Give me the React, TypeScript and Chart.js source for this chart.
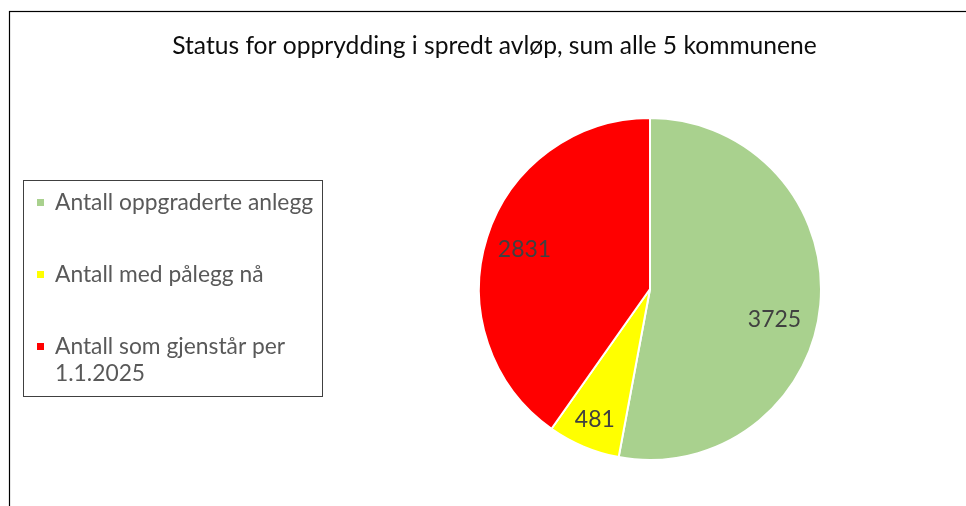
import React, { useEffect, useRef } from "react";
import { Chart, registerables } from "chart.js";

Chart.register(...registerables);

const titleText = "Status for opprydding i spredt avløp, sum alle 5 kommunene";
const categories = [
  "Antall oppgraderte anlegg",
  "Antall med pålegg nå",
  "Antall som gjenstår per 1.1.2025",
];
const values = [3725, 481, 2831];
const sliceColors = ["#A9D18E", "#FFFF00", "#FF0000"];

// label placement (fraction along the arc angle, fraction of radius)
const labelAngleFrac = [0.545, 0.5, 0.5];
const labelRadiusFrac = [0.75, 0.83, 0.77];

const FONT = "Lato, 'Open Sans', sans-serif";

const framePlugin = {
  id: "frame",
  beforeDraw(chart: any) {
    const ctx = chart.ctx;
    ctx.save();
    ctx.fillStyle = "#ffffff";
    ctx.fillRect(0, 0, chart.width, chart.height);
    ctx.strokeStyle = "#000000";
    ctx.lineWidth = 1.2;
    ctx.strokeRect(9.5, 11.5, chart.width + 50, chart.height + 50);
    ctx.restore();
  },
};

const titlePlugin = {
  id: "customTitle",
  afterDraw(chart: any) {
    const ctx = chart.ctx;
    ctx.save();
    ctx.font = `24.6px ${FONT}`;
    ctx.fillStyle = "#0d0d0d";
    ctx.textAlign = "center";
    ctx.textBaseline = "alphabetic";
    ctx.fillText(titleText, 494.5, 54);
    ctx.restore();
  },
};

const dataLabelPlugin = {
  id: "dataLabels",
  afterDatasetsDraw(chart: any) {
    const ctx = chart.ctx;
    const meta = chart.getDatasetMeta(0);
    const data = chart.data.datasets[0].data;
    ctx.save();
    ctx.font = `23px ${FONT}`;
    ctx.fillStyle = "#404040";
    ctx.textAlign = "center";
    ctx.textBaseline = "middle";
    meta.data.forEach((arc: any, i: number) => {
      const p = arc.getProps(["x", "y", "startAngle", "endAngle", "outerRadius"], true);
      const a = p.startAngle + (p.endAngle - p.startAngle) * labelAngleFrac[i];
      const r = p.outerRadius * labelRadiusFrac[i];
      ctx.fillText(String(data[i]), p.x + Math.cos(a) * r, p.y + Math.sin(a) * r);
    });
    ctx.restore();
  },
};

function wrap(ctx: CanvasRenderingContext2D, text: string, maxW: number): string[] {
  const words = text.split(" ");
  const lines: string[] = [];
  let cur = "";
  for (const w of words) {
    const t = cur ? cur + " " + w : w;
    if (ctx.measureText(t).width > maxW && cur) {
      lines.push(cur);
      cur = w;
    } else cur = t;
  }
  if (cur) lines.push(cur);
  return lines;
}

const legendPlugin = {
  id: "boxLegend",
  afterDraw(chart: any) {
    const ctx = chart.ctx;
    const box = { x: 23.5, y: 180.5, w: 299, h: 216 };
    ctx.save();
    ctx.strokeStyle = "#404040";
    ctx.lineWidth = 1;
    ctx.strokeRect(box.x, box.y, box.w, box.h);
    ctx.font = `22.8px ${FONT}`;
    ctx.textBaseline = "alphabetic";
    ctx.textAlign = "left";
    const labels = chart.data.labels as string[];
    const colors = chart.data.datasets[0].backgroundColor as string[];
    let baseline = 210;
    const lineH = 27;
    const itemGap = 72;
    labels.forEach((lab, i) => {
      const lines = wrap(ctx, lab, 262);
      ctx.fillStyle = colors[i];
      ctx.fillRect(37, baseline - 11, 7, 7);
      ctx.fillStyle = "#595959";
      lines.forEach((ln, j) => ctx.fillText(ln, 55, baseline + j * lineH));
      baseline += itemGap + (lines.length - 1) * lineH;
    });
    ctx.restore();
  },
};

export default function App() {
  const ref = useRef<HTMLCanvasElement>(null);
  useEffect(() => {
    if (!ref.current) return;
    const chart = new Chart(ref.current, {
      type: "pie",
      data: {
        labels: categories,
        datasets: [
          {
            data: values,
            backgroundColor: sliceColors,
            borderColor: "#ffffff",
            borderWidth: 2,
          },
        ],
      },
      options: {
        animation: false,
        responsive: true,
        maintainAspectRatio: false,
        layout: { padding: { left: 478, right: 144, top: 117, bottom: 45 } },
        plugins: {
          legend: { display: false },
          title: { display: false },
          tooltip: { enabled: false },
        },
      },
      plugins: [framePlugin, dataLabelPlugin, titlePlugin, legendPlugin],
    });
    return () => chart.destroy();
  }, []);
  return (
    <div style={{ position: "fixed", left: 0, top: 0, width: 966, height: 506, background: "#fff" }}>
      <canvas ref={ref} />
    </div>
  );
}
